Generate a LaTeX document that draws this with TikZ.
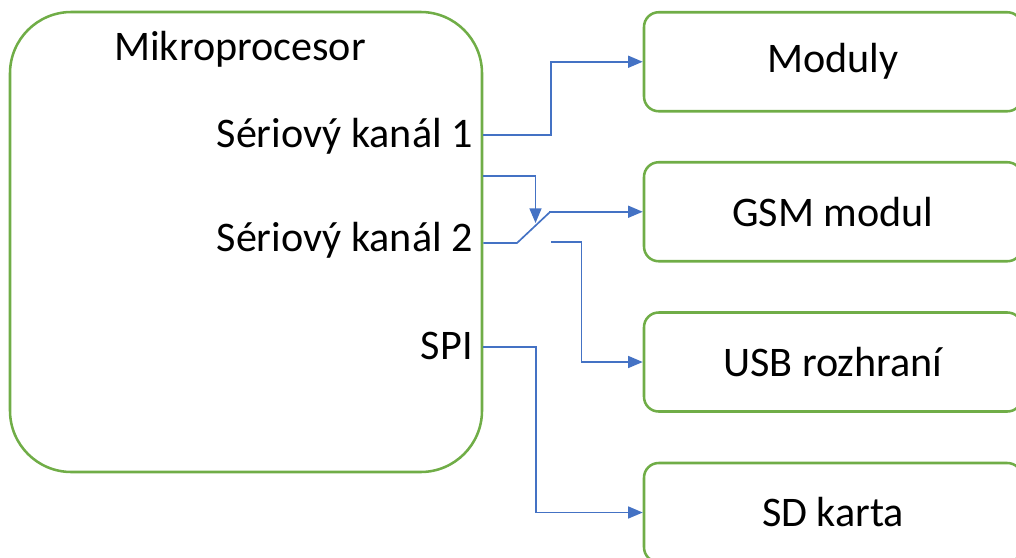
\documentclass[tikz,border=0pt]{standalone}
\usepackage{fontspec}
\setmainfont{Carlito}
\usetikzlibrary{arrows.meta}
\definecolor{boxgreen}{HTML}{70AD47}
\definecolor{linkblue}{HTML}{4472C4}
\begin{document}
\begin{tikzpicture}[x=0.75pt,y=-0.75pt,
  font=\fontsize{31.6}{36}\selectfont,
  mcubox/.style={draw=boxgreen,line width=1.9pt,rounded corners=46pt,minimum width=354pt,minimum height=345pt,inner sep=0pt},
  devbox/.style={draw=boxgreen,line width=1.9pt,rounded corners=11pt,minimum width=283.5pt,minimum height=74.25pt,inner sep=0pt},
  conn/.style={draw=linkblue,line width=1.25pt},
  arr/.style={conn,-{Triangle[length=11pt,width=9pt]}}]
\useasboundingbox (0,0) rectangle (1016,557);
\clip (0,0) rectangle (1016,557);
\node[mcubox] (mcu) at (246,242) {};
\node[anchor=base] (title) at (240,60) {Mikroprocesor};
\node[anchor=base east,inner sep=0pt] (lab1) at (473,147) {Sériový kanál 1};
\node[anchor=base east,inner sep=0pt] (lab2) at (473,251) {Sériový kanál 2};
\node[anchor=base east,inner sep=0pt] (lab3) at (473,359) {SPI};
\node[devbox] (mod) at (833,61.75) {Moduly};
\node[devbox] (gsm) at (833,211.75) {GSM modul};
\node[devbox] (usb) at (833,362) {USB rozhraní};
\node[devbox] (sd) at (833,512.5) {SD karta};
\coordinate (y1) at (0,135);
\coordinate (yc) at (0,176);
\coordinate (y2) at (0,243);
\coordinate (y3) at (0,347);
\coordinate (sw1) at (517,243);
\coordinate (sw2) at (550,212);
\coordinate (ct) at (551,242);
\coordinate (tip) at (535.5,223);
% serial 1
\draw[arr] (mcu.east |- y1) -- ++(68,0) |- (mod.west);
% switch control
\draw[arr] (mcu.east |- yc) -| (tip);
% serial 2 switch
\draw[conn] (mcu.east |- y2) -- (sw1) -- (sw2);
\draw[arr] (sw2) -- (gsm.west -| sw2) -- (gsm.west);
\draw[arr] (ct) -- ++(30.5,0) |- (usb.west);
% SPI
\draw[arr] (mcu.east |- y3) -- ++(53,0) |- (sd.west);
\end{tikzpicture}
\end{document}
